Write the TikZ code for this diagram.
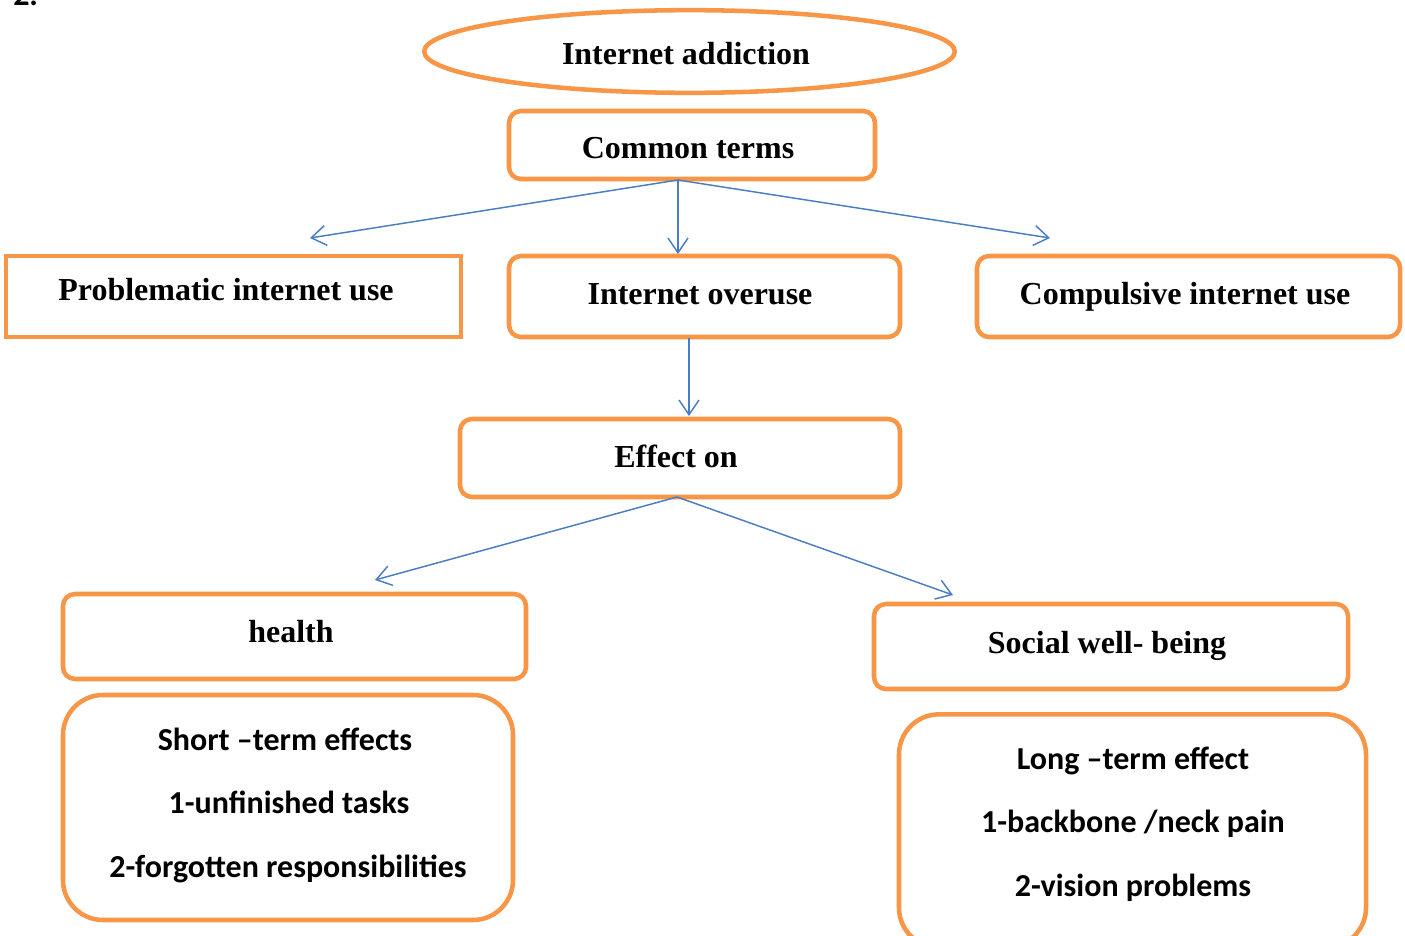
\documentclass[tikz,border=0pt]{standalone}
\usepackage{fontspec}
\setmainfont{Liberation Serif}
\newfontfamily\calfont{Carlito}
\usetikzlibrary{shapes.geometric,arrows.meta}
\definecolor{org}{HTML}{F79646}
\definecolor{blu}{HTML}{4A7EC2}
\tikzset{
  box/.style={draw=org,line width=3.4pt,rounded corners=9pt,inner sep=0pt},
  sbox/.style={draw=org,line width=3.4pt,inner sep=0pt},
  bigbox/.style={draw=org,line width=3.4pt,rounded corners=30pt,inner sep=0pt},
  stxt/.style={anchor=base,font=\fontsize{24}{28}\selectfont\bfseries,inner sep=0pt},
  ctxt/.style={anchor=base,font=\calfont\fontsize{24}{28}\selectfont\bfseries,inner sep=0pt},
  conn/.style={draw=blu,line width=1.1pt,-{Straight Barb[length=11pt,width=15pt,line width=1.1pt]}}
}
\begin{document}
\begin{tikzpicture}[x=0.75pt,y=-0.75pt]
\useasboundingbox (0,0) rectangle (1405,935);
\node[ctxt,anchor=base west] (two) at (13,5) {2.};
% shapes
\node[ellipse,draw=org,line width=3.4pt,minimum width=398pt,minimum height=62pt,inner sep=0pt] (ia) at (689.5,51.5) {};
\node[box,minimum width=274.5pt,minimum height=51pt] (ct) at (692,145) {};
\node[sbox,minimum width=341.25pt,minimum height=60.75pt] (piu) at (233.5,296.5) {};
\node[box,minimum width=293.25pt,minimum height=60.75pt] (io) at (704.5,296.5) {};
\node[box,minimum width=317.25pt,minimum height=60.75pt] (ciu) at (1188.5,296.5) {};
\node[box,minimum width=330pt,minimum height=58.5pt] (eo) at (680,458) {};
\node[box,minimum width=347.25pt,minimum height=63.75pt] (hl) at (294.5,636.5) {};
\node[box,minimum width=355.5pt,minimum height=63.75pt] (sw) at (1111,646.5) {};
\node[bigbox,minimum width=337.5pt,minimum height=168.75pt] (st) at (288,807.5) {};
\node[bigbox,minimum width=350.25pt,minimum height=175pt] (lt) at (1132.5,831) {};
% texts
\node[stxt] (t1) at (686,64) {Internet addiction};
\node[stxt] (t2) at (688,158) {Common terms};
\node[stxt] (t3) at (226,300) {Problematic internet use};
\node[stxt] (t4) at (700,304) {Internet overuse};
\node[stxt] (t5) at (1185,304) {Compulsive internet use};
\node[stxt] (t6) at (676,467) {Effect on};
\node[stxt] (t7) at (291,642) {health};
\node[stxt] (t8) at (1107,653) {Social well- being};
\node[ctxt] (s1) at (285,750) {Short –term effects};
\node[ctxt] (s2) at (289,813) {1-unfinished tasks};
\node[ctxt] (s3) at (288,877) {2-forgotten responsibilities};
\node[ctxt] (l1) at (1133,769) {Long –term effect};
\node[ctxt] (l2) at (1133,832) {1-backbone /neck pain};
\node[ctxt] (l3) at (1133,896) {2-vision problems};
% connectors
\coordinate (cs) at (678,180);
\coordinate (e1) at (310,238);
\coordinate (e2) at (1050,238);
\coordinate (e3) at (678,254);
\coordinate (ios) at (689,338);
\coordinate (e4) at (689,416);
\coordinate (es) at (677,497);
\coordinate (e5) at (375,580);
\coordinate (e6) at (953,595);
\draw[conn] (cs) -- (e1);
\draw[conn] (cs) -- (e3);
\draw[conn] (cs) -- (e2);
\draw[conn] (ios) -- (e4);
\draw[conn] (es) -- (e5);
\draw[conn] (es) -- (e6);
\end{tikzpicture}
\end{document}
